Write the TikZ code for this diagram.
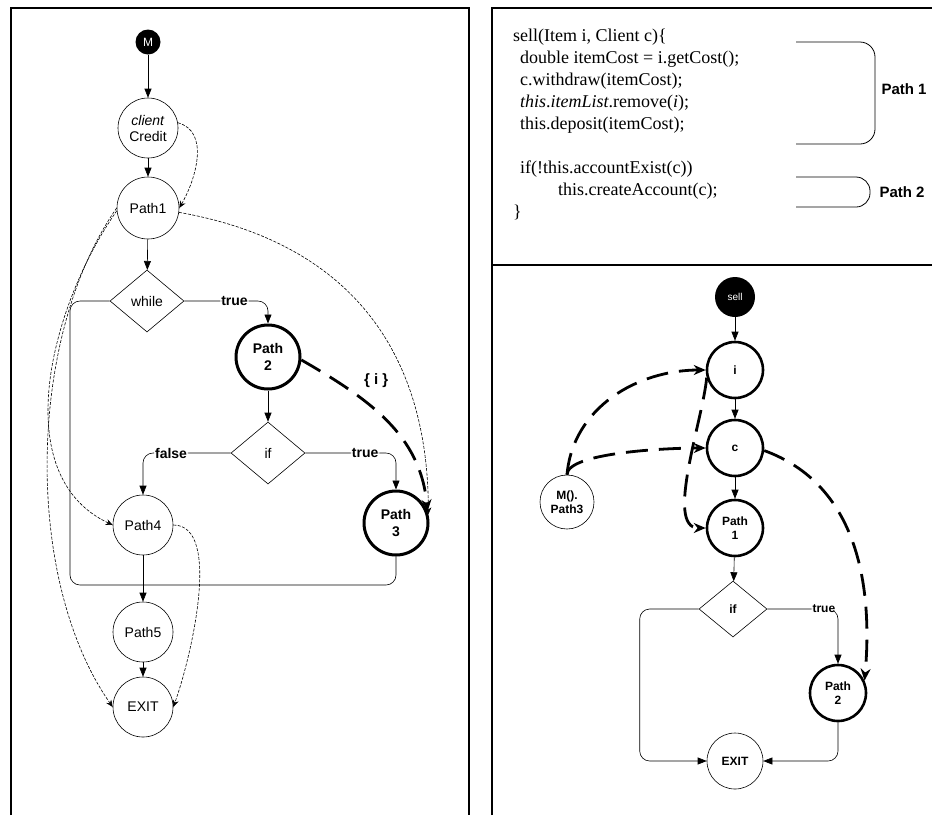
\documentclass[tikz,border=0pt]{standalone}
\usepackage{fontspec}
\setmainfont{Liberation Sans}
\newfontfamily\codefont{Liberation Serif}
\usetikzlibrary{shapes.geometric, arrows.meta, positioning, calc}

\begin{document}
\begin{tikzpicture}[
        x=1pt, y=1pt,
        state/.style={
          circle,
          draw,
          line width=0.6pt,
          inner sep=0pt,
          minimum size=60pt,
          align=center,
          font=\fontsize{14}{16}\selectfont
        },
        hot/.style={state, line width=3pt, font=\fontsize{14}{17}\selectfont\bfseries},
        rstate/.style={state, minimum size=56pt, font=\fontsize{12}{14}\selectfont\bfseries},
        rhot/.style={rstate, line width=2.6pt},
        entry/.style={circle, fill=black, text=white, inner sep=0pt, minimum size=#1},
        cond/.style={
          diamond,
          draw,
          line width=0.6pt,
          inner sep=0pt,
          minimum width=74pt,
          minimum height=62pt,
          font=\fontsize{14}{16}\selectfont
        },
        flow/.style={line width=0.6pt, rounded corners=10pt, -{Triangle[length=9pt, width=7pt]}},
        loop/.style={line width=0.6pt, rounded corners=10pt},
        dep/.style={line width=0.6pt, dash pattern=on 3pt off 1.5pt, -{Stealth[length=7pt, width=6pt]}},
        data/.style={line width=2.8pt, dash pattern=on 22pt off 11pt, -{Stealth[length=12pt, width=10pt]}},
        lbl/.style={fill=white, inner sep=1pt, font=\fontsize{#1}{#1}\selectfont\bfseries},
        brace/.style={line width=0.8pt, rounded corners=15pt},
        panel/.style={line width=1.4pt}
    ]

    \useasboundingbox (0,0) rectangle (932,-815);

    % Frames
    \draw[panel] (11,-815) -- (11,-8) -- (469,-8) -- (469,-815);
    \draw[panel] (492,-815) -- (492,-8) -- (932,-8);
    \draw[panel] (492,-265) -- (932,-265);

    % Define the nodes (caller M)
    \node[entry=25pt, font=\fontsize{12}{12}\selectfont] (M) at (148,-42) {M};
    \node[state] (credit) at (148,-128) {\textit{client}\\Credit};
    \node[state, minimum size=62pt] (p1) at (148,-208) {Path1};
    \node[cond] (while) at (147,-301) {while};
    \node[hot, minimum size=64pt] (p2) at (268,-357) {Path\\2};
    \node[cond] (if) at (268,-453) {if};
    \node[state] (p4) at (143,-525) {Path4};
    \node[hot, minimum size=64pt] (p3) at (396,-523) {Path\\3};
    \node[state] (p5) at (143,-632) {Path5};
    \node[state] (exit) at (143,-707) {EXIT};
    \coordinate (loopL) at (70,-585);

    % Connect the nodes
    \draw[flow] (M) -- (credit);
    \draw[flow] (credit) -- (p1);
    \draw[flow] (p1) -- (while);
    \draw[flow] (while.east) -| node[lbl=14, pos=0.3] {true} (p2.north);
    \draw[flow] (p2) -- (if);
    \draw[flow] (if.west) -| node[lbl=14, pos=0.34] {false} (p4.north);
    \draw[flow] (if.east) -| node[lbl=14, pos=0.33] {true} (p3.north);
    \draw[loop] (while.west) -| (loopL) -| (p3.south);
    \draw[flow] (p4) -- (p5);
    \draw[flow] (p5) -- (exit);

    % Dependences
    \draw[dep] (credit.10) to[out=-15, in=60] (p1.east);
    \draw[dep] (p1.-8) to[out=-10, in=90, looseness=1.1] (p3.15);
    \draw[dep] (p1.185) to[out=235, in=155, looseness=0.95] (p4.west);
    \draw[dep] (p1.180) to[out=235, in=125, looseness=0.8] (exit.west);
    \draw[dep] (p4.east) to[out=0, in=70, looseness=0.7] (exit.east);
    \draw[data] (p2.-5) to[out=-30, in=95] node[lbl=15, pos=0.3, above right=7pt, fill=none] {\{ i \}} (p3.20);

    % Source of sell
    \node[anchor=north west, align=left, inner sep=0pt,
          font=\codefont\fontsize{18}{22}\selectfont] (code) at (513,-29) {%
      sell(Item i, Client c)\{\\
      \hspace*{7pt}double itemCost = i.getCost();\\
      \hspace*{7pt}c.withdraw(itemCost);\\
      \hspace*{7pt}\textit{this}.\textit{itemList}.remove(\textit{i});\\
      \hspace*{7pt}this.deposit(itemCost);\\[22pt]
      \hspace*{7pt}if(!this.accountExist(c))\\
      \hspace*{45pt}this.createAccount(c);\\
      \}};
    \draw[brace] (796,-42) -- (875,-42) -- (875,-144) -- (796,-144);
    \draw[brace, rounded corners=14pt] (796,-177) -- (870,-177) -- (870,-207) -- (796,-207);
    \node[lbl=15] (path1) at (904,-89) {Path 1};
    \node[lbl=15] (path2) at (902,-192) {Path 2};

    % Define the nodes (sell)
    \node[entry=40pt, font=\fontsize{10}{10}\selectfont] (sell) at (735,-297) {sell};
    \node[rhot] (i) at (735,-370) {i};
    \node[rhot] (c) at (735,-448) {c};
    \node[rhot] (q1) at (735,-528) {Path\\1};
    \node[rstate, minimum size=54pt] (caller) at (567,-502) {M().\\Path3};
    \node[cond, minimum width=68pt, minimum height=56pt, font=\fontsize{12}{14}\selectfont\bfseries] (if2) at (733,-609) {if};
    \node[rhot] (q2) at (838,-693) {Path\\2};
    \node[rstate] (exit2) at (735,-761) {EXIT};

    % Connect the nodes
    \draw[flow] (sell) -- (i);
    \draw[flow] (i) -- (c);
    \draw[flow] (c) -- (q1);
    \draw[flow] (q1) -- (if2);
    \draw[flow] (if2.east) -| node[lbl=12, pos=0.4] {true} (q2.north);
    \draw[flow] (if2.west) -- ++(-59,0) |- (exit2.west);
    \draw[flow] (q2.south) |- (exit2.east);

    % Data flow
    \draw[data] (caller.north) to[out=85, in=180] (i.west);
    \draw[data] (caller.north) .. controls +(0,22) and +(-40,0) .. (c.west);
    \draw[data] (i.195) to[out=265, in=180, looseness=0.7] (q1.west);
    \draw[data] (c.-5) to[out=-20, in=85] (q2.25);

\end{tikzpicture}
\end{document}
